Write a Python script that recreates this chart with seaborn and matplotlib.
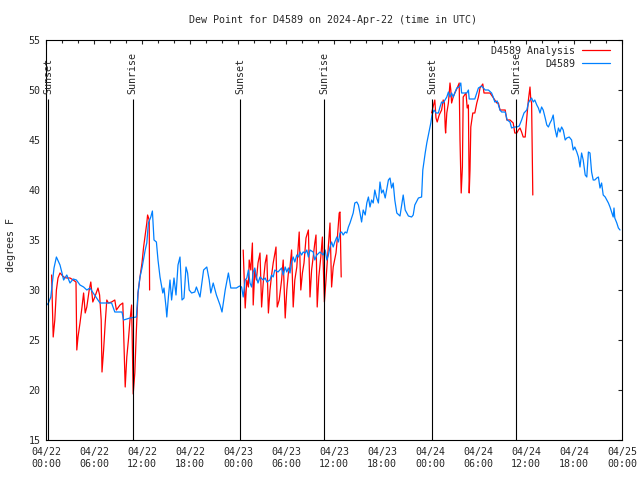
import numpy as np
import pandas as pd
import matplotlib
matplotlib.use("Agg")
import matplotlib.pyplot as plt
import seaborn as sns

nan = float("nan")

# hours since 2024-04-22 00:00 UTC
blue_hours = [
    0.1, 0.3, 0.6, 1.0, 1.3, 1.75, 2.0, 2.2, 2.6, 3.0,
    3.4, 3.8, 4.25, 4.7, 5.1, 5.5, 5.9, 6.75, 7.6, 8.2,
    8.6, 9.5, 9.7, 10.5, 11.3, 11.5, 11.75, 12.0, 12.4, 12.6,
    12.8, 13.1, 13.3, 13.5, 13.8, 14.0, 14.25, 14.6, 14.75, 15.0,
    15.1, 15.3, 15.5, 15.7, 16.0, 16.25, 16.5, 16.75, 17.0, 17.25,
    17.5, 17.7, 17.9, 18.2, 18.6, 18.8, 19.25, 19.7, 20.1, 20.4,
    20.6, 20.9, 21.3, 21.75, 22.0, 22.4, 22.8, 23.1, 23.8, 24.2,
    24.45, 24.65, 24.9, 25.1, 25.3, 25.5, 25.7, 25.9, 26.1, 26.3,
    26.5, 26.75, 27.15, 27.4, 27.6, 28.0, 28.2, 28.4, 28.6, 29.0,
    29.45, 29.65, 29.9, 30.1, 30.3, 30.5, 30.7, 30.9, 31.1, 31.35,
    31.55, 31.75, 31.95, 32.15, 32.4, 32.6, 32.8, 33.0, 33.4, 33.6,
    33.85, 34.25, 34.65, 34.9, 35.1, 35.3, 35.5, 35.7, 35.9, 36.1,
    36.35, 36.55, 36.75, 36.95, 37.15, 37.4, 37.6, 37.8, 38.0, 38.2,
    38.4, 38.6, 38.85, 39.05, 39.25, 39.45, 39.65, 39.9, 40.1, 40.3,
    40.5, 40.7, 40.9, 41.1, 41.3, 41.55, 41.75, 41.95, 42.15, 42.4,
    42.8, 43.0, 43.2, 43.4, 43.6, 43.85, 44.25, 44.65, 44.9, 45.3,
    45.7, 45.9, 46.1, 46.55, 46.95, 47.1, 47.4, 47.6, 47.8, 48.1,
    48.25, 48.5, 48.75, 49.05, 49.25, 49.45, 49.65, 50.1, 50.3, 50.5,
    50.7, 50.9, 51.35, 51.65, 51.85, 51.95, 52.6, 52.8, 52.9, 53.6,
    53.85, 54.05, 54.25, 54.45, 54.9, 55.3, 55.7, 55.9, 56.1, 56.4,
    56.55, 56.75, 56.95, 57.4, 57.65, 58.0, 58.2, 58.5, 58.85, 59.15,
    59.45, 59.75, 60.1, 60.3, 60.5, 60.7, 60.9, 61.1, 61.35, 61.55,
    61.75, 61.95, 62.15, 62.4, 62.6, 62.8, 63.0, 63.2, 63.4, 63.6,
    63.85, 64.05, 64.25, 64.45, 64.65, 64.9, 65.1, 65.4, 65.7, 65.9,
    66.1, 66.35, 66.55, 66.75, 66.95, 67.15, 67.4, 67.6, 67.8, 68.0,
    68.2, 68.4, 68.6, 68.85, 69.05, 69.25, 69.45, 69.65, 69.9, 70.1,
    70.3, 70.5, 70.7, 70.9, 71.0, 71.1, 71.35, 71.55, 71.75,
]
blue_dewpt = [
    28.5, 28.7, 29.3, 32.2, 33.3, 32.5, 31.7, 31.0, 31.5, 30.7,
    31.1, 31.0, 30.5, 30.3, 30.0, 30.2, 29.7, 28.7, 28.7, 28.7,
    27.8, 27.8, 27.0, 27.2, 27.3, 29.7, 31.3, 32.2, 34.0, 34.7,
    36.7, 37.3, 37.9, 35.0, 34.8, 33.0, 31.3, 29.7, 30.2, 28.3,
    27.3, 29.3, 31.0, 29.0, 31.2, 29.5, 32.5, 33.3, 29.0, 29.2,
    32.3, 31.7, 30.0, 29.7, 29.8, 30.3, 29.3, 32.0, 32.3, 31.0,
    29.7, 30.7, 29.5, 28.5, 27.8, 30.0, 31.7, 30.2, 30.2, 30.4,
    30.3, 29.3, 31.0, 31.2, 32.0, 30.7, 30.3, 31.8, 32.2, 31.3,
    30.7, 31.3, 31.0, 31.2, 30.8, 31.0, 31.5, 31.3, 32.0, 31.8,
    32.2, 31.5, 32.3, 31.8, 32.2, 31.7, 32.8, 33.3, 32.8, 33.5,
    33.3, 33.8, 33.5, 33.8, 33.7, 34.0, 33.3, 34.0, 33.8, 33.0,
    33.5, 33.8, 33.5, 34.0, 33.0, 33.5, 34.3, 34.8, 34.3, 34.8,
    35.3, 34.8, 35.7, 35.8, 35.5, 35.8, 35.7, 36.3, 36.7, 37.2,
    37.7, 38.7, 38.8, 38.5, 37.7, 36.8, 38.0, 37.5, 38.7, 39.3,
    38.3, 39.0, 38.7, 40.0, 39.3, 38.7, 40.8, 39.7, 40.0, 39.2,
    41.0, 41.2, 40.2, 40.7, 39.0, 37.7, 37.4, 39.5, 38.0, 37.4,
    37.3, 37.5, 38.5, 39.2, 39.3, 42.0, 43.7, 44.7, 45.5, 46.7,
    47.5, 48.0, 47.7, 47.7, 48.3, 48.8, 48.7, 49.3, 49.8, 49.3,
    49.7, 49.3, 50.2, 50.3, 50.7, 49.7, 49.7, 50.0, 49.1, 49.1,
    49.7, 50.2, 50.3, 50.4, 50.0, 50.0, 49.7, 49.3, 48.8, 48.9,
    48.5, 48.0, 47.8, 47.8, 47.0, 46.8, 46.2, 46.3, 46.3, 46.4,
    47.0, 47.7, 48.0, 48.7, 49.0, 49.2, 48.8, 49.0, 48.5, 48.2,
    47.7, 48.3, 48.0, 47.2, 46.5, 46.3, 46.7, 47.0, 47.5, 46.2,
    45.3, 46.2, 45.8, 46.3, 46.0, 45.0, 45.2, 45.3, 45.0, 44.0,
    44.3, 43.8, 43.3, 42.3, 43.7, 43.0, 41.5, 41.3, 43.8, 43.7,
    41.8, 41.0, 41.0, 41.2, 41.3, 40.2, 40.7, 39.5, 39.3, 39.0,
    38.7, 38.3, 37.8, 37.3, 38.2, 37.2, 36.7, 36.2, 36.0,
]

# analysis series, nan marks a gap between runs
red_hours = [
    0.7, 0.9, 1.1, 1.3, 1.5, 1.75, 2.2, 2.6, 3.0, 3.4,
    3.75, 3.85, 4.0, 4.25, 4.5, 4.7, 4.9, 5.1, 5.4, 5.6,
    5.85, 6.1, 6.5, 6.7, 6.9, 7.0, 7.2, 7.4, 7.6, 7.8,
    8.2, 8.6, 8.8, 9.25, 9.6, 9.9, 10.1, 10.3, 10.5, 10.7,
    10.9, 11.1, 11.3, 11.5, 11.75, 12.0, 12.2, 12.4, 12.6, 12.7,
    12.9, 12.95, nan,
    24.65, 24.9, 25.1, 25.3, 25.4, 25.6, 25.8, 25.9, 26.1, 26.3,
    26.5, 26.75, 26.95, 27.15, 27.4, 27.6, 27.8, 28.0, 28.2, 28.4,
    28.75, 28.9, 29.15, 29.45, 29.65, 29.9, 30.1, 30.3, 30.5, 30.7,
    30.9, 31.1, 31.35, 31.65, 31.85, 32.05, 32.25, 32.5, 32.8, 33.0,
    33.2, 33.4, 33.6, 33.75, 33.9, 34.1, 34.35, 34.55, 34.8, 35.0,
    35.2, 35.5, 35.7, 35.9, 36.25, 36.4, 36.65, 36.75, 36.9, nan,
    48.2, 48.6, 48.75, 48.9, 49.15, 49.45, 49.65, 49.8, 49.9, 49.95,
    50.1, 50.3, 50.5, 50.6, 50.7, 50.9, 51.1, 51.4, 51.65, 51.75,
    51.9, 52.05, 52.15, 52.5, 52.6, 52.65, 52.8, 52.9, 53.0, 53.1,
    53.35, 53.6, 53.85, 54.05, 54.25, 54.6, 54.75, 55.5, 55.85, 56.35,
    56.55, 56.75, 57.4, 57.6, 58.0, 58.4, 58.6, 58.85, 59.05, 59.25,
    59.45, 59.65, 59.9, 60.0, 60.15, 60.3, 60.5, 60.6, 60.7, 60.85,
]
red_dewpt = [
    31.5, 25.3, 27.0, 30.0, 31.2, 31.7, 31.3, 31.2, 31.2, 31.0,
    30.8, 24.0, 25.3, 26.7, 28.3, 29.7, 27.7, 28.3, 30.0, 30.8,
    28.8, 29.3, 30.2, 29.5, 27.0, 21.8, 24.0, 26.7, 29.0, 28.7,
    28.8, 29.0, 28.0, 28.5, 28.7, 20.3, 23.3, 25.0, 27.0, 28.5,
    19.6, 21.7, 26.0, 29.7, 31.3, 32.7, 34.3, 35.5, 36.7, 37.5,
    37.0, 30.0, nan,
    34.0, 28.2, 31.0, 30.3, 33.0, 32.0, 34.7, 28.5, 32.0, 31.0,
    32.7, 33.7, 28.3, 30.7, 32.7, 33.5, 27.7, 30.0, 31.5, 32.7,
    34.3, 28.3, 29.0, 31.0, 33.0, 27.2, 30.0, 31.7, 32.3, 34.0,
    28.3, 31.0, 32.3, 35.8, 30.0, 31.7, 32.7, 35.2, 36.0, 29.3,
    32.0, 33.3, 34.7, 35.5, 28.3, 31.3, 33.3, 35.3, 28.8, 31.0,
    33.3, 36.7, 30.3, 32.3, 33.7, 35.0, 37.7, 37.8, 31.3, nan,
    47.7, 49.0, 47.2, 46.8, 47.5, 48.0, 49.0, 48.7, 46.3, 45.7,
    47.7, 48.7, 50.7, 50.0, 48.7, 49.3, 49.7, 50.2, 50.7, 45.0,
    39.7, 42.3, 49.3, 49.7, 48.7, 48.2, 48.5, 39.7, 42.0, 46.3,
    47.7, 47.7, 48.7, 49.3, 50.2, 50.6, 49.7, 49.7, 49.3, 48.7,
    48.7, 48.0, 48.0, 47.0, 47.0, 46.7, 45.7, 45.7, 46.0, 46.2,
    45.8, 45.3, 45.3, 46.3, 47.7, 49.0, 50.3, 49.0, 48.7, 39.5,
]

sun_hours = [0.25, 10.85, 24.25, 34.75, 48.25, 58.75]
sun_labels = ["Sunset", "Sunrise", "Sunset", "Sunrise", "Sunset", "Sunrise"]

tick_hours = [0, 6, 12, 18, 24, 30, 36, 42, 48, 54, 60, 66, 72]
tick_labels = ["04/22\n00:00", "04/22\n06:00", "04/22\n12:00", "04/22\n18:00",
               "04/23\n00:00", "04/23\n06:00", "04/23\n12:00", "04/23\n18:00",
               "04/24\n00:00", "04/24\n06:00", "04/24\n12:00", "04/24\n18:00",
               "04/25\n00:00"]

assert len(blue_hours) == len(blue_dewpt)
assert len(red_hours) == len(red_dewpt)

blue_df = pd.DataFrame({"hour": blue_hours, "dewpt": blue_dewpt})
red_df = pd.DataFrame({"hour": red_hours, "dewpt": red_dewpt})
red_df["run"] = red_df["hour"].isna().cumsum()
red_df = red_df.dropna()

sns.set_style("white")
plt.rcParams["font.family"] = ["DejaVu Sans Mono"]
plt.rcParams["font.size"] = 7.2

fig = plt.figure(figsize=(6.4, 4.8), dpi=100)
ax = fig.add_axes([46 / 640, 40 / 480, 576 / 640, 400 / 480])

red_col = "#ff0000"
blue_col = "#0080ff"

sns.lineplot(data=red_df, x="hour", y="dewpt", units="run", estimator=None,
             sort=False, color=red_col, lw=0.9, ax=ax)
sns.lineplot(data=blue_df, x="hour", y="dewpt", estimator=None, sort=False,
             color=blue_col, lw=0.9, ax=ax)

# sunrise / sunset markers
ax.vlines(sun_hours, 15, 49.1, color="black", lw=0.8)
for h, lab in zip(sun_hours, sun_labels):
    ax.text(h, 49.6, lab, rotation=90, ha="center", va="bottom", fontsize=7.2)

ax.set_xlim(0, 72)
ax.set_ylim(15, 55)
ax.set_xticks(tick_hours)
ax.set_xticklabels(tick_labels)
ax.set_xticks(np.arange(0, 73, 2), minor=True)
ax.set_yticks(np.arange(15, 56, 5))
ax.tick_params(which="both", direction="in", top=True, right=True, width=0.8)
ax.tick_params(which="major", length=3.2)
ax.tick_params(which="minor", length=2)
ax.tick_params(axis="x", pad=5)
ax.tick_params(axis="y", pad=4)
for s in ax.spines.values():
    s.set_linewidth(0.8)
    s.set_color("black")

ax.set_xlabel("")
ax.set_ylabel("")
fig.text(11 / 640, 1 - 245 / 480, "degrees F", rotation=90, ha="center", va="center")
fig.text(333 / 640, 1 - 20 / 480, "Dew Point for D4589 on 2024-Apr-22 (time in UTC)",
         ha="center", va="center")

handles = [plt.Line2D([], [], color=red_col, lw=0.9),
           plt.Line2D([], [], color=blue_col, lw=0.9)]
ax.legend(handles, ["D4589 Analysis", "D4589"], loc="upper right",
          bbox_to_anchor=(0.98, 0.985), frameon=False, markerfirst=False,
          handlelength=2.8, handletextpad=0.7, labelspacing=0.3,
          borderpad=0, borderaxespad=0)

fig.savefig("out.png", dpi=100)
